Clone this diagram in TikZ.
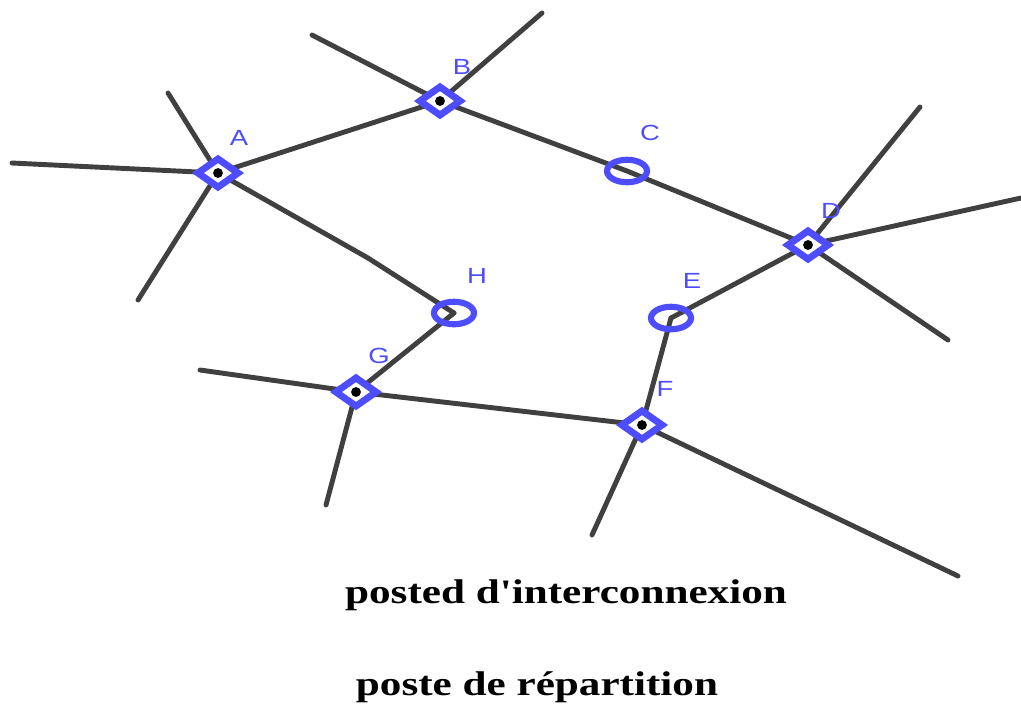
\documentclass[tikz,border=0pt]{standalone}
\usepackage{fontspec}
\setmainfont{Liberation Serif}
\newfontfamily\labfont{Liberation Sans}
\usetikzlibrary{shapes.geometric,backgrounds}
\definecolor{nodeblue}{RGB}{77,77,255}
\definecolor{linegray}{RGB}{64,64,64}
\tikzset{
  wire/.style={draw=linegray,line width=2.8pt,line cap=round},
  interco/.style={diamond,draw=nodeblue,fill=white,line width=3.9pt,minimum width=0.86cm,minimum height=0.62cm,inner sep=0pt},
  repart/.style={ellipse,draw=nodeblue,line width=3.5pt,minimum width=0.8cm,minimum height=0.45cm,inner sep=0pt},
  lab/.style={text=nodeblue,font=\labfont\fontsize{12.5}{12.5}\selectfont,inner sep=0pt},
  caption/.style={font=\bfseries\fontsize{19.5}{22}\selectfont,anchor=base,inner sep=0pt}
}
\begin{document}
\begin{tikzpicture}[x=0.02cm,y=-0.02cm]
\useasboundingbox (0,0) rectangle (1021,704);
% nodes
\node[interco] (A) at (218,173) {};
\node[interco] (B) at (440,101) {};
\node[repart]  (C) at (627,171) {};
\node[interco] (D) at (808,245) {};
\node[repart]  (E) at (671,318) {};
\node[interco] (F) at (642,425) {};
\node[interco] (G) at (356,392) {};
\node[repart]  (H) at (454,313) {};
\foreach \n in {A,B,D,F,G} \fill (\n.center) circle (2.8pt);
% free ends
\coordinate (a1) at (12,163);
\coordinate (a2) at (168,93);
\coordinate (a3) at (138,300);
\coordinate (ah) at (368,258);
\coordinate (b1) at (312,35);
\coordinate (b2) at (542,13);
\coordinate (d1) at (920,107);
\coordinate (d2) at (1021,198);
\coordinate (d3) at (948,340);
\coordinate (f1) at (592,535);
\coordinate (f2) at (958,576);
\coordinate (g1) at (200,370);
\coordinate (g2) at (326,505);
\begin{pgfonlayer}{background}
\draw[wire] (A.center) -- (a1);
\draw[wire] (A.center) -- (a2);
\draw[wire] (A.center) -- (a3);
\draw[wire] (A.center) -- (B.center);
\draw[wire] (A.center) -- (ah) -- (H.center);
\draw[wire] (B.center) -- (b1);
\draw[wire] (B.center) -- (b2);
\draw[wire] (B.center) -- (C.center) -- (D.center);
\draw[wire] (D.center) -- (d1);
\draw[wire] (D.center) -- (d2);
\draw[wire] (D.center) -- (d3);
\draw[wire] (D.center) -- (E.center);
\draw[wire] (E.center) -- (F.center);
\draw[wire] (F.center) -- (f1);
\draw[wire] (F.center) -- (f2);
\draw[wire] (F.center) -- (G.center);
\draw[wire] (G.center) -- (g1);
\draw[wire] (G.center) -- (g2);
\draw[wire] (G.center) -- (H.center);
\end{pgfonlayer}
% labels
\node[lab] (lA) at (239,138) {\scalebox{1.25}[1]{A}};
\node[lab] (lB) at (462,67) {\scalebox{1.25}[1]{B}};
\node[lab] (lC) at (650,133) {\scalebox{1.25}[1]{C}};
\node[lab] (lD) at (831,211) {\scalebox{1.25}[1]{D}};
\node[lab] (lE) at (692,281) {\scalebox{1.25}[1]{E}};
\node[lab] (lF) at (665,389) {\scalebox{1.25}[1]{F}};
\node[lab] (lG) at (379,356) {\scalebox{1.25}[1]{G}};
\node[lab] (lH) at (477,276) {\scalebox{1.25}[1]{H}};
% captions
\node[caption] (t1) at (566,603) {\scalebox{1.26}[1]{posted d\textquotesingle interconnexion}};
\node[caption] (t2) at (537,695) {\scalebox{1.26}[1]{poste de répartition}};
\end{tikzpicture}
\end{document}
